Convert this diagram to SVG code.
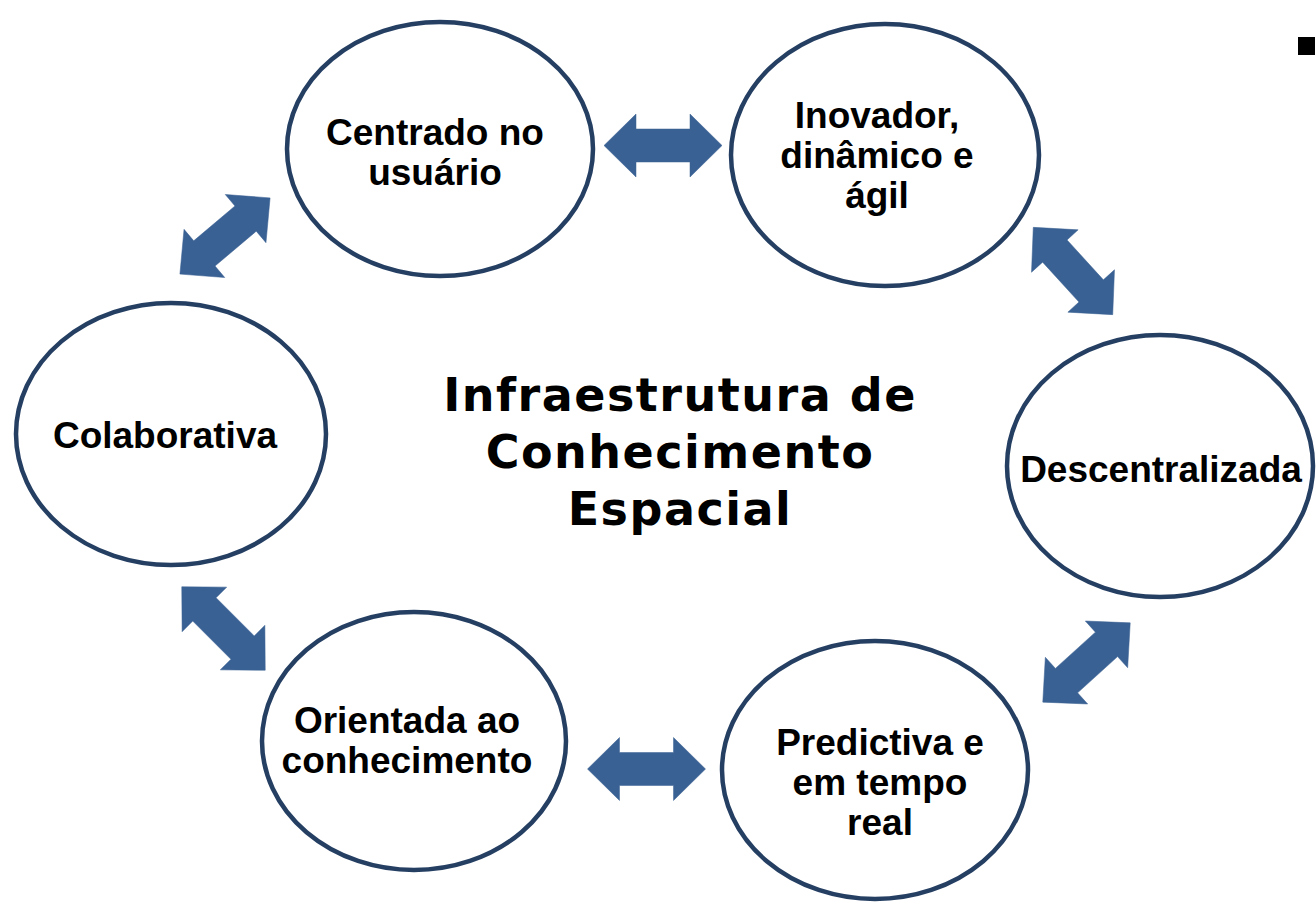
<svg xmlns="http://www.w3.org/2000/svg" width="1316" height="903" viewBox="0 0 1316 903">
<defs>
<style>
.node ellipse{fill:#fff;stroke:#253F63;stroke-width:4.5}
.lbl{font-family:"Liberation Sans",Arial,sans-serif;font-weight:bold;font-size:37px;fill:#000;text-anchor:middle}
.title{font-family:"DejaVu Sans",Verdana,sans-serif;font-weight:bold;font-size:46px;letter-spacing:1.5px;fill:#000;text-anchor:middle}
.arr{fill:#3A6193;stroke:#3A6193;stroke-width:0.5}
</style>
<path id="dbl" d="M-59,0 L-27,-31.5 L-27,-16.5 L27,-16.5 L27,-31.5 L59,0 L27,31.5 L27,16.5 L-27,16.5 L-27,31.5 Z"/>
</defs>
<rect width="1316" height="903" fill="#fff"/>
<rect x="1298" y="37" width="17" height="18" fill="#000"/>
<g id="connectors">
<use href="#dbl" class="arr" transform="translate(663,145.5)"/>
<use href="#dbl" class="arr" transform="translate(646.5,769)"/>
<use href="#dbl" class="arr" transform="translate(225,236) rotate(-40.2)"/>
<use href="#dbl" class="arr" transform="translate(1073,271) rotate(47.7)"/>
<use href="#dbl" class="arr" transform="translate(1086.5,662.5) rotate(-42.2)"/>
<use href="#dbl" class="arr" transform="translate(223.5,628.5) rotate(45)"/>
</g>
<g id="n1" class="node">
<ellipse cx="440" cy="149" rx="153" ry="127"/>
<text class="lbl" x="435" y="145">Centrado no</text>
<text class="lbl" x="435" y="185">usuário</text>
</g>
<g id="n2" class="node">
<ellipse cx="885" cy="155" rx="154" ry="131"/>
<text class="lbl" x="877" y="128">Inovador,</text>
<text class="lbl" x="877" y="168">dinâmico e</text>
<text class="lbl" x="877" y="208">ágil</text>
</g>
<g id="n3" class="node">
<ellipse cx="171" cy="434" rx="155" ry="131"/>
<text class="lbl" x="165" y="448">Colaborativa</text>
</g>
<g id="n4" class="node">
<ellipse cx="1160" cy="466" rx="153" ry="131"/>
<text class="lbl" x="1161" y="482">Descentralizada</text>
</g>
<g id="n5" class="node">
<ellipse cx="414" cy="741" rx="152" ry="129"/>
<text class="lbl" x="407" y="733">Orientada ao</text>
<text class="lbl" x="407" y="773">conhecimento</text>
</g>
<g id="n6" class="node">
<ellipse cx="875" cy="770" rx="153" ry="129"/>
<text class="lbl" x="880" y="755">Predictiva e</text>
<text class="lbl" x="880" y="795">em tempo</text>
<text class="lbl" x="880" y="835">real</text>
</g>
<g id="center">
<text class="title" x="680" y="411">Infraestrutura de</text>
<text class="title" x="680" y="468">Conhecimento</text>
<text class="title" x="680" y="525">Espacial</text>
</g>
</svg>
